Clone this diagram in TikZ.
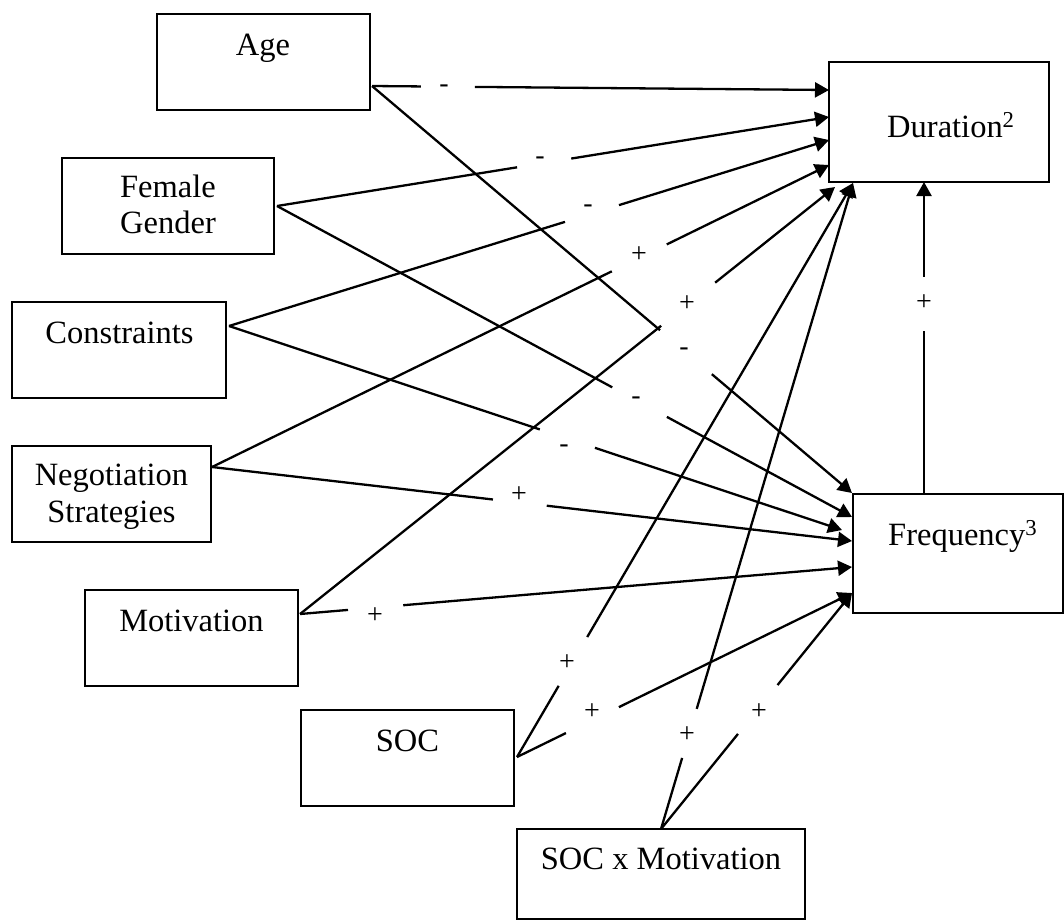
\documentclass[tikz,border=0pt]{standalone}
\usepackage{fontspec}
\setmainfont{Liberation Serif}
\usetikzlibrary{arrows.meta,calc}

% a connector broken around its sign: solid piece, gap, arrowed piece
\newcommand\splitlink[4]{%
  \draw[link] (#1) -- ($(#1)!#3!(#2)$);
  \draw[arr] ($(#1)!#4!(#2)$) -- (#2);}

\begin{document}
\begin{tikzpicture}[x=1pt,y=-1pt,
  box/.style={draw, line width=2.4pt, inner sep=0pt, minimum height=96pt},
  caption/.style={font=\fontsize{32.5}{36}\selectfont, anchor=base, inner sep=0pt},
  sign/.style={font=\fontsize{28}{30}\selectfont, inner sep=0pt},
  link/.style={line width=2.3pt},
  arr/.style={line width=2.3pt, -{Triangle[length=14pt,width=15pt]}}]

\useasboundingbox (0,0) rectangle (1064,922);

% predictor boxes
\node[box, minimum width=213pt] (age) at (263.5,62) {};
\node[box, minimum width=212pt] (fg)  at (168,206) {};
\node[box, minimum width=214pt] (con) at (119,350) {};
\node[box, minimum width=199pt] (neg) at (111.5,494) {};
\node[box, minimum width=213pt] (mot) at (191.5,638) {};
\node[box, minimum width=213pt] (soc) at (407.5,758) {};
\node[box, minimum width=288pt, minimum height=90pt] (sxm) at (661,874) {};
% outcome boxes
\node[box, minimum width=220pt, minimum height=120pt] (dur)  at (939,122) {};
\node[box, minimum width=210pt, minimum height=119pt] (freq) at (958,553.5) {};

% box captions
\node[caption] (agetxt) at (263,55) {Age};
\node[caption] (fgtxt1) at (168,197) {Female};
\node[caption] (fgtxt2) at (168,233) {Gender};
\node[caption] (contxt) at (119.5,343) {Constraints};
\node[caption] (negtxt1) at (111.5,485) {Negotiation};
\node[caption] (negtxt2) at (111.5,522) {Strategies};
\node[caption] (mottxt) at (191.5,631) {Motivation};
\node[caption] (soctxt) at (407.5,751) {SOC};
\node[caption] (sxmtxt) at (661,869) {SOC x Motivation};
\node[caption, anchor=base west] (durtxt) at (887,137) {Duration\textsuperscript{2}};
\node[caption, anchor=base west] (freqtxt) at (888,545) {Frequency\textsuperscript{3}};

% ports on the predictor boxes
\coordinate (ageo) at (372,86);
\coordinate (fgo)  at (277,206);
\coordinate (cono) at (229,326);
\coordinate (nego) at (212,467);
\coordinate (moto) at (300,614);
\coordinate (soco) at (517,757);
\coordinate (sxmo) at (661,829);
% arrow tips on Duration
\coordinate (d1) at (829,90);
\coordinate (d2) at (829,117);
\coordinate (d3) at (829,140);
\coordinate (d4) at (829,165);
\coordinate (d5) at (835,187);
\coordinate (d6) at (853,183);
% arrow tips on Frequency
\coordinate (f1) at (852,493);
\coordinate (f2) at (852,517);
\coordinate (f3) at (842,530);
\coordinate (f4) at (852,541);
\coordinate (f5) at (852,567);
\coordinate (f6) at (852,593);
\coordinate (fq) at (924,494);
\coordinate (dq) at (924,182);

% paths with their signs
\splitlink{ageo}{d1}{0.107}{0.225}
\node[sign] (s1) at (444,89) {-};
\splitlink{ageo}{f1}{0.600}{0.708}
\node[sign] (s2) at (684,352) {-};
\splitlink{fgo}{d2}{0.435}{0.533}
\node[sign] (s3) at (540,161) {-};
\splitlink{fgo}{f2}{0.583}{0.678}
\node[sign] (s4) at (636,401) {-};
\splitlink{cono}{d3}{0.560}{0.650}
\node[sign] (s5) at (588,209) {-};
\splitlink{cono}{f3}{0.507}{0.597}
\node[sign] (s6) at (564,449) {-};
\splitlink{nego}{d4}{0.648}{0.737}
\node[sign] (s7) at (639,255) {+};
\splitlink{nego}{f4}{0.439}{0.523}
\node[sign] (s8) at (519,495) {+};
\splitlink{moto}{d5}{0.675}{0.776}
\node[sign] (s9) at (687,304) {+};
\splitlink{moto}{f5}{0.087}{0.187}
\node[sign] (s10) at (375,616) {+};
\splitlink{soco}{d6}{0.124}{0.209}
\node[sign] (s11) at (567,663) {+};
\splitlink{soco}{f6}{0.146}{0.304}
\node[sign] (s12) at (592,712) {+};
\splitlink{sxmo}{d6}{0.110}{0.186}
\node[sign] (s13) at (687,735) {+};
\splitlink{sxmo}{f6}{0.403}{0.610}
\node[sign] (s14) at (759,712) {+};
\splitlink{fq}{dq}{0.522}{0.696}
\node[sign] (s15) at (924,303) {+};

\end{tikzpicture}
\end{document}
